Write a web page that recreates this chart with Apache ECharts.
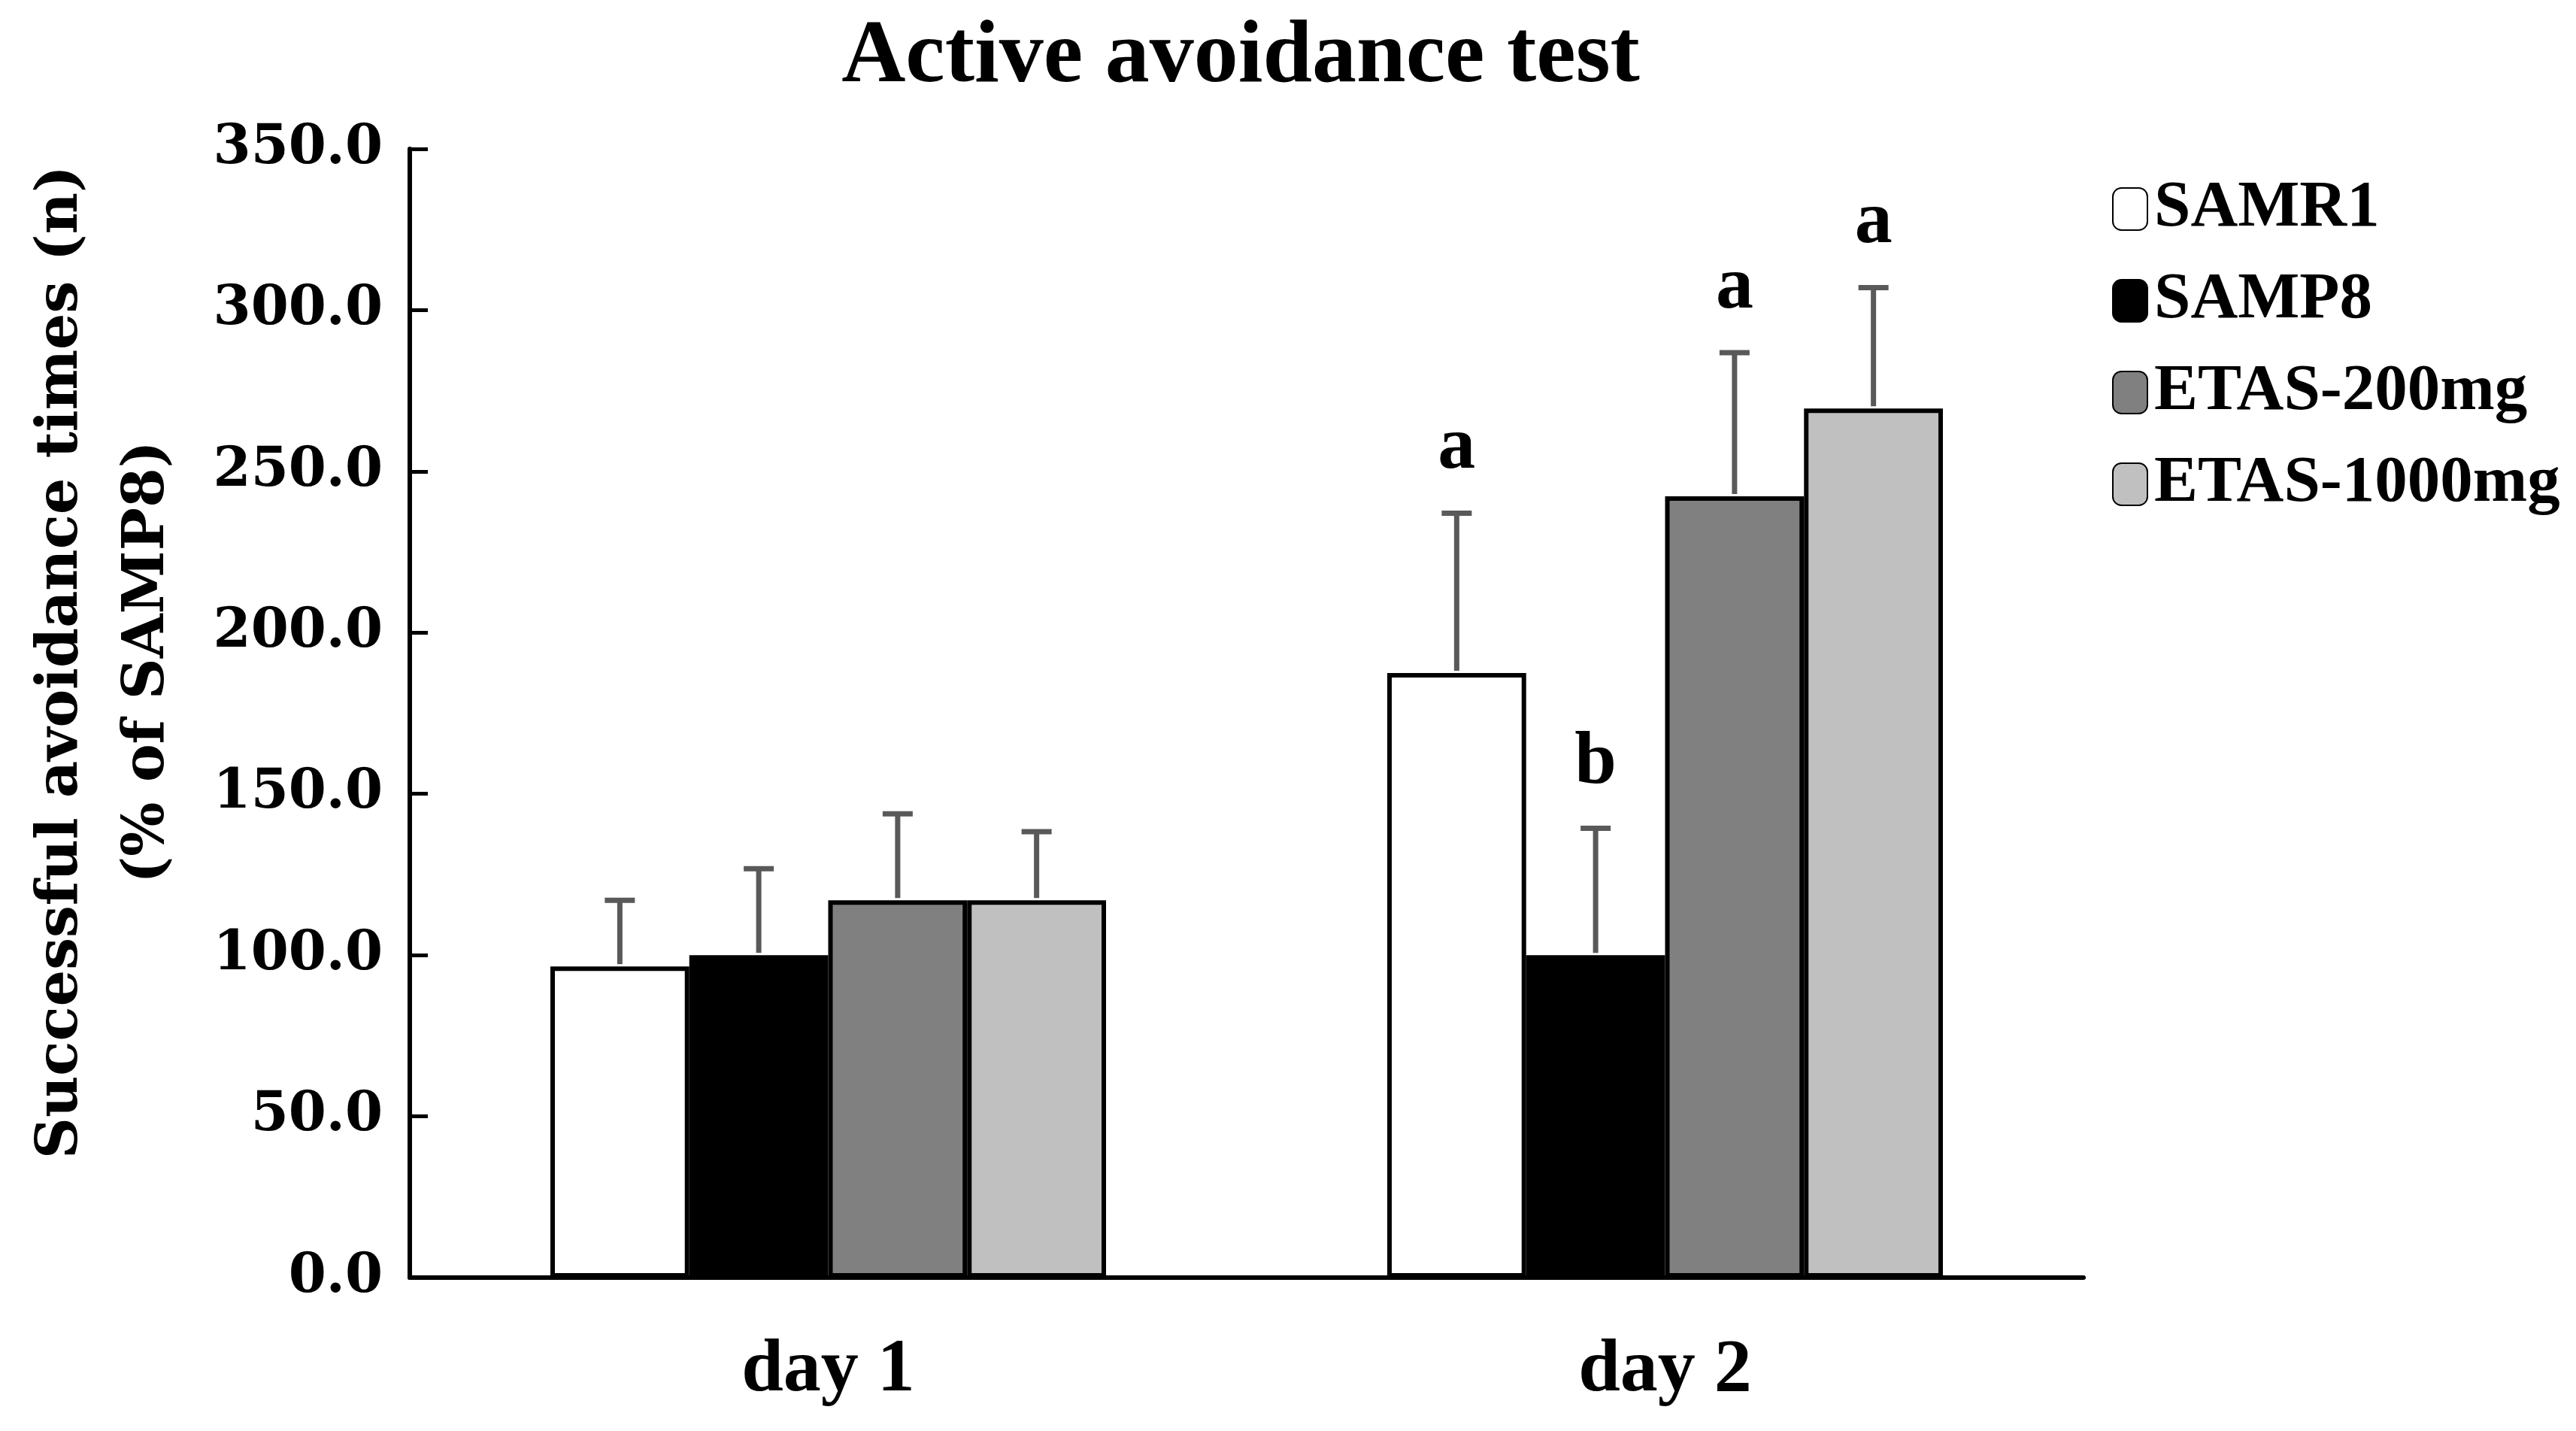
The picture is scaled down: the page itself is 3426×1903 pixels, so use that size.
<!DOCTYPE html>
<html>
<head>
<meta charset="utf-8">
<script src="https://cdn.jsdelivr.net/npm/echarts@6/dist/echarts.min.js"></script>
<style>html,body{margin:0;padding:0;background:#fff}#c{width:3426px;height:1903px}</style>
</head>
<body>
<div id="c"></div>
<script>
var categories = ['day 1', 'day 2'];
var seriesNames = ['SAMR1', 'SAMP8', 'ETAS-200mg', 'ETAS-1000mg'];
var samr1 = [96.5, 187.5];
var samp8 = [100.0, 100.0];
var etas200 = [117.0, 242.3];
var etas1000 = [117.0, 269.5];
var samr1Err = [20.5, 49.5];
var samp8Err = [26.8, 39.3];
var etas200Err = [26.8, 44.5];
var etas1000Err = [21.3, 37.5];
var samr1Sig = ['', 'a'];
var samp8Sig = ['', 'b'];
var etas200Sig = ['', 'a'];
var etas1000Sig = ['', 'a'];
var yTicks = [0, 50, 100, 150, 200, 250, 300, 350];

var means = [samr1, samp8, etas200, etas1000];
var errs = [samr1Err, samp8Err, etas200Err, etas1000Err];
var sigs = [samr1Sig, samp8Sig, etas200Sig, etas1000Sig];
var fills = ['#ffffff', '#000000', '#808080', '#c0c0c0'];
var catGap = 0.336;
var serif = '"Liberation Serif", "Times New Roman", serif';
var wideSerif = '"DejaVu Serif", serif';

var chart = echarts.init(document.getElementById('c'));
var series = [];
means.forEach(function (m, i) {
  series.push({
    name: seriesNames[i], type: 'bar', data: m,
    barGap: '0%', barCategoryGap: (catGap * 100) + '%',
    itemStyle: { color: fills[i], borderColor: '#000', borderWidth: 6 },
    z: 2
  });
});
means.forEach(function (m, i) {
  var d = m.map(function (v, k) { return [k, v, errs[i][k], sigs[i][k]]; });
  series.push({
    name: 'err' + i, type: 'custom', data: d, z: 5,
    renderItem: function (params, api) {
      var cat = api.value(0), mean = api.value(1), e = api.value(2);
      var letter = d[params.dataIndex][3];
      var p0 = api.coord([cat, mean]);
      var p1 = api.coord([cat, mean + e]);
      var band = api.size([1, 0])[0];
      var bw = band * (1 - catGap) / 4;
      var x = p0[0] + (i - 1.5) * bw;
      var st = { stroke: '#595959', lineWidth: 7 };
      var children = [
        { type: 'line', shape: { x1: x, y1: p0[1] - 3, x2: x, y2: p1[1] }, style: st },
        { type: 'line', shape: { x1: x - 20, y1: p1[1], x2: x + 20, y2: p1[1] }, style: st }
      ];
      if (letter) {
        children.push({ type: 'text', style: { text: letter, x: x, y: p1[1] - 36,
          align: 'center', verticalAlign: 'bottom',
          font: 'bold 100px ' + serif, fill: '#000' } });
      }
      return { type: 'group', children: children };
    }
  });
});

chart.setOption({
  backgroundColor: '#fff',
  animation: false,
  title: {
    text: 'Active avoidance test', left: 1645, textAlign: 'center', top: 14,
    textStyle: { fontFamily: serif, fontWeight: 'bold', fontSize: 118, color: '#000' }
  },
  legend: {
    data: seriesNames, orient: 'vertical', left: 2804, top: 228,
    itemWidth: 46, itemHeight: 56, itemGap: 32,
    textStyle: { fontFamily: serif, fontWeight: 'bold', fontSize: 87, color: '#000', lineHeight: 90, padding: [0, 0, 0, 4] }
  },
  grid: { left: 545, right: 655, top: 198, bottom: 204, outerBoundsMode: 'none', containLabel: false },
  xAxis: {
    type: 'category', data: categories,
    axisLine: { lineStyle: { color: '#000', width: 6 } },
    axisTick: { inside: true, length: 24, lineStyle: { color: '#000', width: 5 } },
    axisLabel: { margin: 74, fontFamily: serif, fontWeight: 'bold', fontSize: 100, color: '#000' }
  },
  yAxis: {
    type: 'value', min: 0, max: 350, interval: 50,
    splitLine: { show: false },
    axisLine: { show: true, lineStyle: { color: '#000', width: 6 } },
    axisTick: { show: true, inside: true, length: 24, lineStyle: { color: '#000', width: 5 } },
    axisLabel: { margin: 36, fontFamily: wideSerif, fontWeight: 'bold', fontSize: 72, color: '#000',
      formatter: function (v) { return yTicks.indexOf(v) >= 0 ? v.toFixed(1) : ''; } },
    name: 'Successful avoidance times (n)\n(% of SAMP8)',
    nameLocation: 'middle', nameRotate: 90, nameGap: 290,
    nameTextStyle: { fontFamily: wideSerif, fontWeight: 'bold', fontSize: 76, lineHeight: 115, color: '#000', padding: [0, 0, 0, 136] }
  },
  series: series
});
</script>
</body>
</html>
